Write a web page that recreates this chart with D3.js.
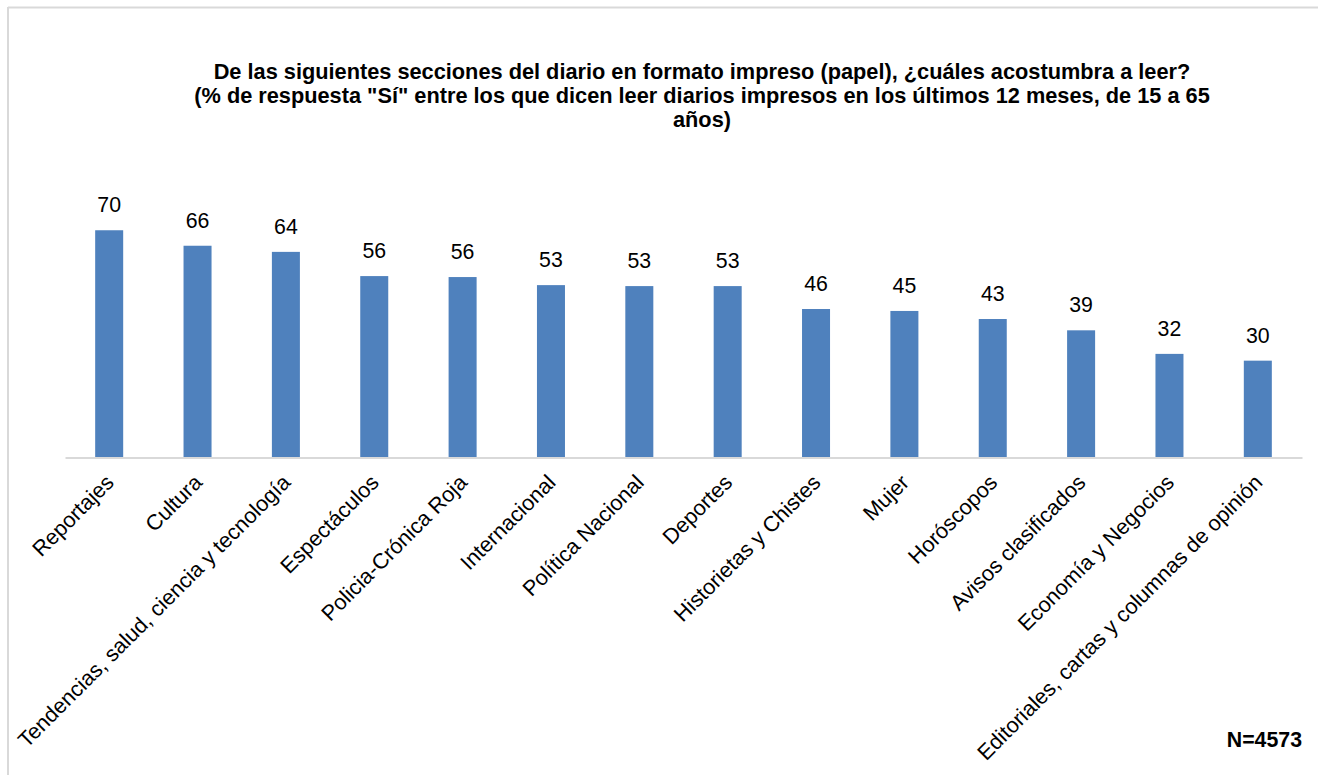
<!DOCTYPE html>
<html>
<head>
<meta charset="utf-8">
<script src="https://cdn.jsdelivr.net/npm/d3@7"></script>
<style>
  html, body { margin: 0; padding: 0; background: #ffffff; }
  svg { display: block; font-family: "Liberation Sans", Arial, sans-serif; }
</style>
</head>
<body>
<svg id="chart" width="1318" height="775"></svg>
<script>
const categories = [
  "Reportajes",
  "Cultura",
  "Tendencias, salud, ciencia y tecnología",
  "Espectáculos",
  "Policia-Crónica Roja",
  "Internacional",
  "Política Nacional",
  "Deportes",
  "Historietas y Chistes",
  "Mujer",
  "Horóscopos",
  "Avisos clasificados",
  "Economía y Negocios",
  "Editoriales, cartas y columnas de opinión"
];
const values = [70.4, 65.6, 63.7, 56.2, 55.9, 53.4, 53.1, 53.1, 46.0, 45.4, 42.9, 39.4, 32.1, 30.0];
const titleLines = [
  "De las siguientes secciones del diario en formato impreso (papel), ¿cuáles acostumbra a leer?",
  "(% de respuesta \"Sí\" entre los que dicen leer diarios impresos en los últimos 12 meses, de 15 a 65",
  "años)"
];
const noteText = "N=4573";

const W = 1318, H = 775;
const FS = 21.3;
const svg = d3.select("#chart");

// outer frame (top and left edges visible)
svg.append("line").attr("x1", 8).attr("y1", 7.5).attr("x2", W).attr("y2", 7.5)
  .attr("stroke", "#d9d9d9").attr("stroke-width", 2);
svg.append("line").attr("x1", 8).attr("y1", 7).attr("x2", 8).attr("y2", H)
  .attr("stroke", "#d9d9d9").attr("stroke-width", 2);

const plot = { left: 65, right: 1302, bottom: 457.5 };
const pxPerUnit = 3.228;
const yMax = 80;

const x = d3.scaleBand()
  .domain(categories)
  .range([plot.left, plot.right])
  .paddingInner(0.683)
  .paddingOuter(0.683 / 2);

const y = d3.scaleLinear()
  .domain([0, yMax])
  .range([plot.bottom, plot.bottom - yMax * pxPerUnit]);

// title
const title = svg.append("text")
  .attr("x", 702)
  .attr("y", 79)
  .attr("text-anchor", "middle")
  .attr("font-weight", "bold")
  .attr("font-size", 21.75)
  .attr("fill", "#000");
titleLines.forEach((t, i) => {
  title.append("tspan").attr("x", 702).attr("y", 79 + i * 24).text(t);
});

// bars
svg.append("g").selectAll("rect")
  .data(values)
  .join("rect")
  .attr("x", (d, i) => x(categories[i]))
  .attr("width", x.bandwidth())
  .attr("y", d => y(d))
  .attr("height", d => y(0) - y(d))
  .attr("fill", "#4f81bd");

// baseline axis
const xAxis = d3.axisBottom(x).tickSize(0).tickFormat("");
const axisG = svg.append("g")
  .attr("transform", `translate(0,${plot.bottom})`)
  .call(xAxis);
axisG.select(".domain").attr("stroke", "#d9d9d9").attr("stroke-width", 2);

// category labels
svg.append("g").selectAll("text")
  .data(categories)
  .join("text")
  .attr("transform", d => `translate(${x(d) + x.bandwidth() / 2 + 0.5},478.5) rotate(-45)`)
  .attr("text-anchor", "end")
  .attr("dy", "0.35em")
  .attr("font-size", 21.6)
  .attr("fill", "#000")
  .text(d => d);

// data labels
const fmt = d3.format(".0f");
svg.append("g").selectAll("text")
  .data(values)
  .join("text")
  .attr("x", (d, i) => x(categories[i]) + x.bandwidth() / 2)
  .attr("y", d => y(d) - 18)
  .attr("text-anchor", "middle")
  .attr("font-size", FS)
  .attr("fill", "#000")
  .text(d => fmt(d));

// note
svg.append("text")
  .attr("x", 1302)
  .attr("y", 747)
  .attr("text-anchor", "end")
  .attr("font-weight", "bold")
  .attr("font-size", FS)
  .attr("fill", "#000")
  .text(noteText);
</script>
</body>
</html>
